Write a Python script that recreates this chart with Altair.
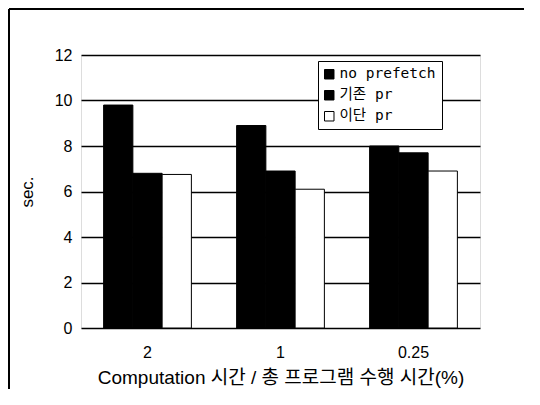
import altair as alt
import pandas as pd

categories = ["2", "1", "0.25"]
series = ["no prefetch", "기존 pr", "이단 pr"]
no_prefetch = [9.8, 8.9, 8.0]
existing_pr = [6.8, 6.9, 7.7]
twostage_pr = [6.75, 6.1, 6.9]

rows = []
for i, c in enumerate(categories):
    for s, vals in zip(series, [no_prefetch, existing_pr, twostage_pr]):
        rows.append({"cat": c, "series": s, "value": vals[i]})
df = pd.DataFrame(rows)

FONT = "Liberation Sans, Noto Sans CJK KR, sans-serif"
LFONT = "DejaVu Sans Mono, Noto Sans CJK KR, monospace"

bars = alt.Chart(df).mark_bar(stroke="black", strokeWidth=1).encode(
    x=alt.X("cat:N", sort=categories,
            scale=alt.Scale(paddingInner=0.34, paddingOuter=0.17),
            axis=alt.Axis(title="Computation 시간 / 총 프로그램 수행 시간(%)",
                          labelAngle=0, ticks=False, domain=False,
                          labelFontSize=16, labelPadding=16,
                          titleFontSize=19, titleFontWeight="normal",
                          titlePadding=8, labelFont=FONT, titleFont=FONT,
                          labelColor="black", titleColor="black")),
    xOffset=alt.XOffset("series:N", sort=series,
                        scale=alt.Scale(paddingInner=0, paddingOuter=0)),
    y=alt.Y("value:Q",
            scale=alt.Scale(domain=[0, 12], nice=False),
            axis=alt.Axis(title="sec.", values=[0, 2, 4, 6, 8, 10, 12],
                          grid=True, gridColor="black", gridWidth=1.5,
                          gridOpacity=1, ticks=False, domain=False,
                          labelFontSize=16, labelPadding=9,
                          titleFontSize=17, titleFontWeight="normal",
                          titlePadding=18, labelFont=FONT, titleFont=FONT,
                          labelColor="black", titleColor="black")),
    fill=alt.Fill("series:N", sort=series,
                  scale=alt.Scale(domain=series, range=["black", "black", "white"]),
                  legend=alt.Legend(title=None, orient="none",
                                    legendX=237, legendY=6,
                                    symbolType="square", symbolSize=90,
                                    symbolStrokeColor="black", symbolStrokeWidth=1,
                                    labelFont=LFONT, labelFontSize=14.5,
                                    labelFontWeight="normal", labelColor="black",
                                    rowPadding=6, padding=6, labelLimit=200,
                                    strokeColor="black", fillColor="white",
                                    symbolOffset=-2, labelOffset=3)),
)

frame_top = alt.Chart(df).mark_rule(color="black", strokeWidth=2).encode(
    x=alt.value(-72), x2=alt.value(443), y=alt.value(-46))
frame_left = alt.Chart(df).mark_rule(color="black", strokeWidth=2).encode(
    x=alt.value(-72), y=alt.value(-46), y2=alt.value(334))

chart = alt.layer(bars, frame_top, frame_left).properties(
    width=399, height=273,
    padding={"left": 73, "top": 47, "right": 44, "bottom": 61},
    autosize=alt.AutoSizeParams(type="none"),
).configure_view(stroke="black", strokeWidth=1.5).configure(background="white")

chart.save("out.html", embed_options={"renderer": "svg", "actions": False})
